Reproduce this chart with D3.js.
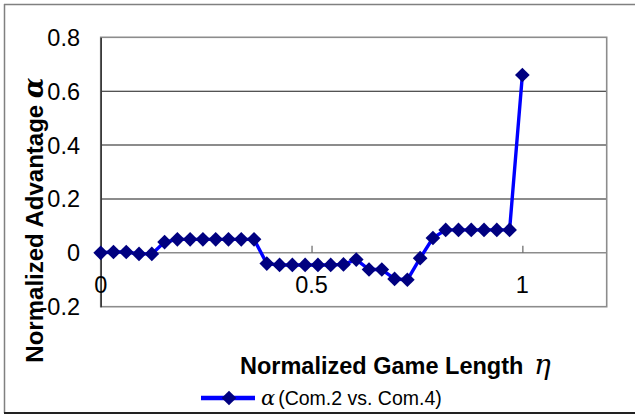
<!DOCTYPE html>
<html>
<head>
<meta charset="utf-8">
<script src="https://cdn.jsdelivr.net/npm/d3@7"></script>
<style>
  html, body { margin: 0; padding: 0; background: #fff; }
  svg { display: block; }
</style>
</head>
<body>
<svg id="chart" width="635" height="414"></svg>
<script>
// Normalized game length (34 samples, step 1/33) and normalized advantage
const eta = d3.range(34).map(i => i / 33);
const alphaValues = [
  0, 0.003, 0.003, -0.004, -0.004,
  0.04, 0.05, 0.05, 0.05, 0.05, 0.05, 0.05, 0.05,
  -0.04, -0.045, -0.045, -0.045, -0.045, -0.045, -0.043,
  -0.025, -0.062, -0.062, -0.097, -0.1, -0.02, 0.055,
  0.085, 0.085, 0.085, 0.085, 0.085, 0.085,
  0.66
];
const seriesName = "(Com.2 vs. Com.4)";
const yTicks = [-0.2, 0, 0.2, 0.4, 0.6, 0.8];
const xTicks = [0, 0.5, 1];

const svg = d3.select("#chart");
const W = 635, H = 414;

// chart frame
svg.append("line").attr("x1", 4.5).attr("y1", 4).attr("x2", 4.5).attr("y2", 413)
  .attr("stroke", "#808080").attr("stroke-width", 1.5);
svg.append("line").attr("x1", 4).attr("y1", 4.5).attr("x2", W).attr("y2", 4.5)
  .attr("stroke", "#808080").attr("stroke-width", 1.5);
svg.append("line").attr("x1", 4).attr("y1", 413).attr("x2", W).attr("y2", 413)
  .attr("stroke", "#222").attr("stroke-width", 2);

const plot = { left: 100.7, right: 606.7, top: 37.3, bottom: 306.7 };
const x = d3.scaleLinear().domain([0, 1.2]).range([plot.left, plot.right]);
const y = d3.scaleLinear().domain([-0.2, 0.8]).range([plot.bottom, plot.top]);

// horizontal gridlines
svg.append("g").selectAll("line")
  .data(yTicks.filter(v => v > 0 && v < 0.8))
  .join("line")
  .attr("x1", plot.left).attr("x2", plot.right)
  .attr("y1", d => y(d)).attr("y2", d => y(d))
  .attr("stroke", "#1a1a1a").attr("stroke-width", 1.1);

// plot area border
svg.append("rect")
  .attr("x", plot.left).attr("y", plot.top)
  .attr("width", plot.right - plot.left).attr("height", plot.bottom - plot.top)
  .attr("fill", "none").attr("stroke", "#8c8c8c").attr("stroke-width", 1.6);

// x axis sits at alpha = 0, ticks pointing up
const xAxis = d3.axisTop(x).tickValues(xTicks).tickSize(7).tickFormat("");
const gx = svg.append("g").attr("transform", `translate(0,${y(0)})`).call(xAxis);
gx.select(".domain").attr("d", `M${plot.left},0H${plot.right}`)
  .attr("stroke", "#8c8c8c").attr("stroke-width", 1.4);
gx.selectAll(".tick line").attr("stroke", "#666").attr("stroke-width", 1.2);

// y axis line
const yAxis = d3.axisLeft(y).tickValues(yTicks).tickSize(0).tickFormat("");
const gy = svg.append("g").attr("transform", `translate(${plot.left},0)`).call(yAxis);
gy.select(".domain").attr("stroke", "#3a3a3a").attr("stroke-width", 1.6);

const font = "'Liberation Sans', Arial, sans-serif";
const greek = "'DejaVu Serif', serif";

// y tick labels
svg.append("g").selectAll("text")
  .data(yTicks).join("text")
  .attr("x", 80).attr("y", d => y(d))
  .attr("dy", "0.36em")
  .attr("text-anchor", "end")
  .attr("font-family", font).attr("font-size", 23.5)
  .text(d => d === 0 ? "0" : d3.format(".1f")(d).replace("−", "-"));

// x tick labels
svg.append("g").selectAll("text")
  .data(xTicks).join("text")
  .attr("x", d => x(d)).attr("y", 285)
  .attr("dy", "0.36em")
  .attr("text-anchor", "middle")
  .attr("font-family", font).attr("font-size", 23.5)
  .text(d => d === 0 ? "0" : String(d));

// series line
const line = d3.line().x((d, i) => x(eta[i])).y(d => y(d));
svg.append("path").datum(alphaValues)
  .attr("d", line)
  .attr("fill", "none").attr("stroke", "#0000ff").attr("stroke-width", 3.4)
  .attr("stroke-linejoin", "round");

// diamond markers
const diamond = d3.symbol().type(d3.symbolSquare).size(108);
svg.append("g").selectAll("path")
  .data(alphaValues).join("path")
  .attr("d", diamond)
  .attr("transform", (d, i) => `translate(${x(eta[i])},${y(d)}) rotate(45)`)
  .attr("fill", "#000080");

// axis titles
const yTitle = svg.append("text")
  .attr("transform", "translate(43,220) rotate(-90)")
  .attr("text-anchor", "middle")
  .attr("font-family", font).attr("font-size", 24).attr("font-weight", "bold");
yTitle.append("tspan").text("Normalized Advantage ");
yTitle.append("tspan").text("α")
  .attr("font-family", greek).attr("font-style", "italic")
  .attr("font-size", 27).attr("font-weight", "bold");

const xTitle = svg.append("text")
  .attr("x", 240).attr("y", 374)
  .attr("font-family", font).attr("font-size", 23.5).attr("font-weight", "bold");
xTitle.append("tspan").text("Normalized Game Length ");
xTitle.append("tspan").text("η")
  .attr("font-family", greek).attr("font-style", "italic")
  .attr("font-size", 28).attr("font-weight", "normal").attr("dx", 4);

// legend
const legend = svg.append("g");
legend.append("line").attr("x1", 201).attr("x2", 255).attr("y1", 398).attr("y2", 398)
  .attr("stroke", "#0000ff").attr("stroke-width", 4.5);
legend.append("path").attr("d", diamond)
  .attr("transform", "translate(229,398) rotate(45)")
  .attr("fill", "#000080");
const lt = legend.append("text")
  .attr("x", 261).attr("y", 405)
  .attr("font-family", font).attr("font-size", 19.5);
lt.append("tspan").text("α")
  .attr("font-family", greek).attr("font-style", "italic").attr("font-size", 21);
lt.append("tspan").text(seriesName).attr("dx", 3);
</script>
</body>
</html>
